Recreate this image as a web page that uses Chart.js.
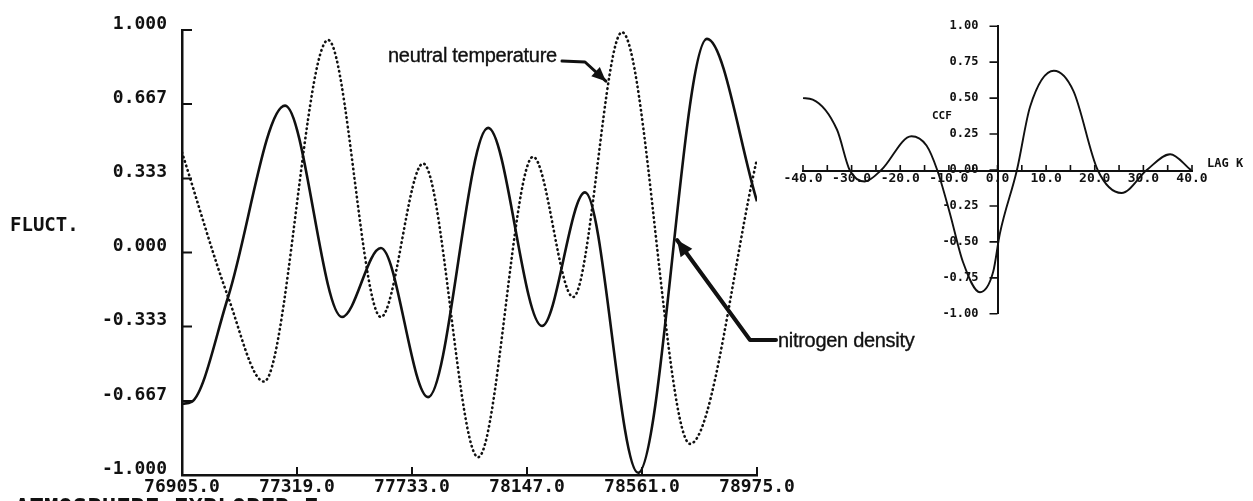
<!DOCTYPE html>
<html>
<head>
<meta charset="utf-8">
<title>FLUCT. / CCF</title>
<script src="https://cdn.jsdelivr.net/npm/chart.js@4.4.0/dist/chart.umd.min.js"></script>
<style>
  html, body { margin: 0; padding: 0; background: #fff; }
  body { width: 1253px; height: 501px; position: relative; overflow: hidden; }
  canvas { position: absolute; }
  #fluctChart { left: 0; top: 0; }
  #ccfChart { left: 760px; top: 0; }
  .note {
    position: absolute; white-space: nowrap; color: #111;
    font-family: "Liberation Sans", Arial, sans-serif; font-size: 20px; line-height: 20px;
    -webkit-text-stroke: 0.35px #111; letter-spacing: -0.3px;
  }
  .mono {
    position: absolute; white-space: nowrap; color: #111;
    font-family: "DejaVu Sans Mono", monospace; font-weight: bold;
  }
</style>
</head>
<body>
<canvas id="fluctChart" width="1253" height="501"></canvas>
<canvas id="ccfChart" width="493" height="340"></canvas>

<div class="mono" style="left:10px; top:215px; font-size:19px; line-height:19px;">FLUCT.</div>
<div class="note" style="left:388px; top:45px;">neutral temperature</div>
<div class="note" style="left:778px; top:330px;">nitrogen density</div>
<div class="mono" style="left:932px; top:110px; font-size:11px; line-height:11px;">CCF</div>
<div class="mono" style="left:1207px; top:157px; font-size:12px; line-height:12px;">LAG K</div>
<div class="mono" style="left:15px; top:496px; font-size:24px; line-height:24px;">ATMOSPHERE EXPLORER E</div>

<script>
// nitrogen density fluctuation, solid trace
const densityTime = [76905, 76941, 77071, 77276, 77481, 77621, 77791, 78007, 78201, 78356, 78547, 78795, 78975];
const densityFluct = [-0.68, -0.67, -0.20, 0.66, -0.29, 0.02, -0.65, 0.56, -0.33, 0.27, -0.99, 0.96, 0.23];

// neutral temperature fluctuation, dotted trace
const tempTime = [76905, 77071, 77200, 77431, 77621, 77773, 77971, 78169, 78313, 78489, 78734, 78975];
const tempFluct = [0.45, -0.20, -0.58, 0.955, -0.29, 0.40, -0.92, 0.43, -0.20, 0.99, -0.86, 0.42];

const timeTicks = [76905, 77319, 77733, 78147, 78561, 78975];
const fluctTicks = [-1, -0.667, -0.333, 0, 0.333, 0.667, 1];

// cross correlation of the two series
const ccfLag = [-40, -38, -33, -30.4, -27.3, -23.9, -17.7, -14.6, -12.4, -9.8, -7.1, -3.6, -0.9, 0.5, 4.0, 6.7, 11.6, 15.6, 20.6, 25.5, 30.7, 35.5, 39.8];
const ccfValue = [0.50, 0.49, 0.28, 0, -0.08, 0, 0.235, 0.17, 0, -0.30, -0.64, -0.85, -0.71, -0.44, 0, 0.44, 0.69, 0.55, 0, -0.16, 0, 0.11, 0];

const lagTicks = [-40, -35, -30, -25, -20, -15, -10, -5, 0, 5, 10, 15, 20, 25, 30, 35, 40];
const ccfTicks = [-1, -0.75, -0.5, -0.25, 0, 0.25, 0.5, 0.75, 1];

const INK = '#111';
const toPoints = (xs, ys) => xs.map((x, i) => ({ x: x, y: ys[i] }));
const setTicks = values => scale => { scale.ticks = values.map(v => ({ value: v })); };

// tick marks drawn on the inner side of the axis lines
const inwardTicks = {
  id: 'inwardTicks',
  afterDraw(chart, args, opts) {
    const { ctx, scales: { x, y }, chartArea } = chart;
    const xLine = opts.xAt === undefined ? chartArea.bottom : y.getPixelForValue(opts.xAt);
    const yLine = opts.yAt === undefined ? chartArea.left : x.getPixelForValue(opts.yAt);
    ctx.save();
    ctx.strokeStyle = INK;
    ctx.lineWidth = opts.width;
    ctx.beginPath();
    x.ticks.forEach((t, i) => {
      const px = x.getPixelForTick(i);
      ctx.moveTo(px, xLine);
      ctx.lineTo(px, xLine + opts.xLen);
    });
    y.ticks.forEach((t, i) => {
      const py = y.getPixelForTick(i);
      ctx.moveTo(yLine, py);
      ctx.lineTo(yLine + opts.yLen, py);
    });
    ctx.stroke();
    ctx.restore();
  }
};

// hand drawn pointers from the notes to the traces
const pointers = {
  id: 'pointers',
  afterDraw(chart, args, opts) {
    const { ctx, scales: { x, y } } = chart;
    ctx.save();
    ctx.strokeStyle = INK;
    ctx.fillStyle = INK;
    ctx.lineCap = 'round';
    ctx.lineJoin = 'round';
    opts.items.forEach(p => {
      const tip = [x.getPixelForValue(p.at[0]), y.getPixelForValue(p.at[1])];
      const path = p.tail.concat([tip]);
      ctx.lineWidth = p.width;
      ctx.beginPath();
      ctx.moveTo(path[0][0], path[0][1]);
      path.slice(1).forEach(pt => ctx.lineTo(pt[0], pt[1]));
      ctx.stroke();
      const from = path[path.length - 2];
      const ang = Math.atan2(tip[1] - from[1], tip[0] - from[0]);
      const len = p.head, half = p.head * 0.45;
      ctx.beginPath();
      ctx.moveTo(tip[0], tip[1]);
      ctx.lineTo(tip[0] - len * Math.cos(ang) + half * Math.sin(ang), tip[1] - len * Math.sin(ang) - half * Math.cos(ang));
      ctx.lineTo(tip[0] - len * Math.cos(ang) - half * Math.sin(ang), tip[1] - len * Math.sin(ang) + half * Math.cos(ang));
      ctx.closePath();
      ctx.fill();
    });
    ctx.restore();
  }
};

const monoFont = size => ({ family: '"DejaVu Sans Mono", monospace', size: size, weight: 'bold' });

new Chart(document.getElementById('fluctChart'), {
  type: 'line',
  data: {
    datasets: [
      {
        label: 'nitrogen density',
        data: toPoints(densityTime, densityFluct),
        borderColor: INK,
        borderWidth: 2.6,
        pointRadius: 0,
        cubicInterpolationMode: 'monotone'
      },
      {
        label: 'neutral temperature',
        data: toPoints(tempTime, tempFluct),
        borderColor: INK,
        borderWidth: 2.6,
        borderDash: [0.5, 4.2],
        borderCapStyle: 'round',
        pointRadius: 0,
        cubicInterpolationMode: 'monotone'
      }
    ]
  },
  options: {
    responsive: false,
    animation: false,
    events: [],
    layout: { padding: { top: 30, right: 496, left: 0, bottom: 0 } },
    plugins: {
      legend: { display: false },
      tooltip: { enabled: false },
      inwardTicks: { xLen: -8, yLen: 10, width: 2 },
      pointers: {
        items: [
          { tail: [[562, 61], [585, 62]], at: [78431, 0.77], width: 3, head: 14 },
          { tail: [[776, 340], [750, 340]], at: [78687, 0.056], width: 4, head: 16 }
        ]
      }
    },
    scales: {
      x: {
        type: 'linear',
        min: 76905,
        max: 78975,
        afterBuildTicks: setTicks(timeTicks),
        afterFit: s => { s.height = 26; },
        grid: { display: false, drawTicks: false },
        border: { color: INK, width: 2.5 },
        ticks: {
          color: INK,
          font: monoFont(18),
          padding: 2,
          autoSkip: false,
          maxRotation: 0,
          callback: v => v.toFixed(1)
        }
      },
      y: {
        min: -1,
        max: 1,
        afterBuildTicks: setTicks(fluctTicks),
        afterFit: s => { s.width = 182; },
        grid: { display: false, drawTicks: false },
        border: { color: INK, width: 2.5 },
        ticks: {
          color: INK,
          font: monoFont(18),
          padding: 15,
          labelOffset: -6,
          callback: v => v.toFixed(3)
        }
      }
    }
  },
  plugins: [inwardTicks, pointers]
});

new Chart(document.getElementById('ccfChart'), {
  type: 'line',
  data: {
    datasets: [{
      label: 'CCF',
      data: toPoints(ccfLag, ccfValue),
      borderColor: INK,
      borderWidth: 1.9,
      pointRadius: 0,
      cubicInterpolationMode: 'monotone'
    }]
  },
  options: {
    responsive: false,
    animation: false,
    events: [],
    layout: { padding: { top: 22, right: 61, left: 43, bottom: 20 } },
    plugins: {
      legend: { display: false },
      tooltip: { enabled: false },
      inwardTicks: { xAt: 0, yAt: 0, xLen: -5, yLen: -8, width: 1.6 }
    },
    scales: {
      x: {
        type: 'linear',
        position: 'center',
        min: -40,
        max: 40,
        afterBuildTicks: setTicks(lagTicks),
        grid: { display: false, drawTicks: false },
        border: { color: INK, width: 2 },
        ticks: {
          color: INK,
          font: monoFont(13),
          padding: 1,
          autoSkip: false,
          maxRotation: 0,
          callback: v => (v % 10 === 0 ? v.toFixed(1) : '')
        }
      },
      y: {
        position: 'center',
        min: -1,
        max: 1,
        afterBuildTicks: setTicks(ccfTicks),
        grid: { display: false, drawTicks: false },
        border: { color: INK, width: 2 },
        ticks: {
          color: INK,
          font: monoFont(12),
          padding: 19,
          autoSkip: false,
          callback: v => v.toFixed(2)
        }
      }
    }
  },
  plugins: [inwardTicks]
});
</script>
</body>
</html>
